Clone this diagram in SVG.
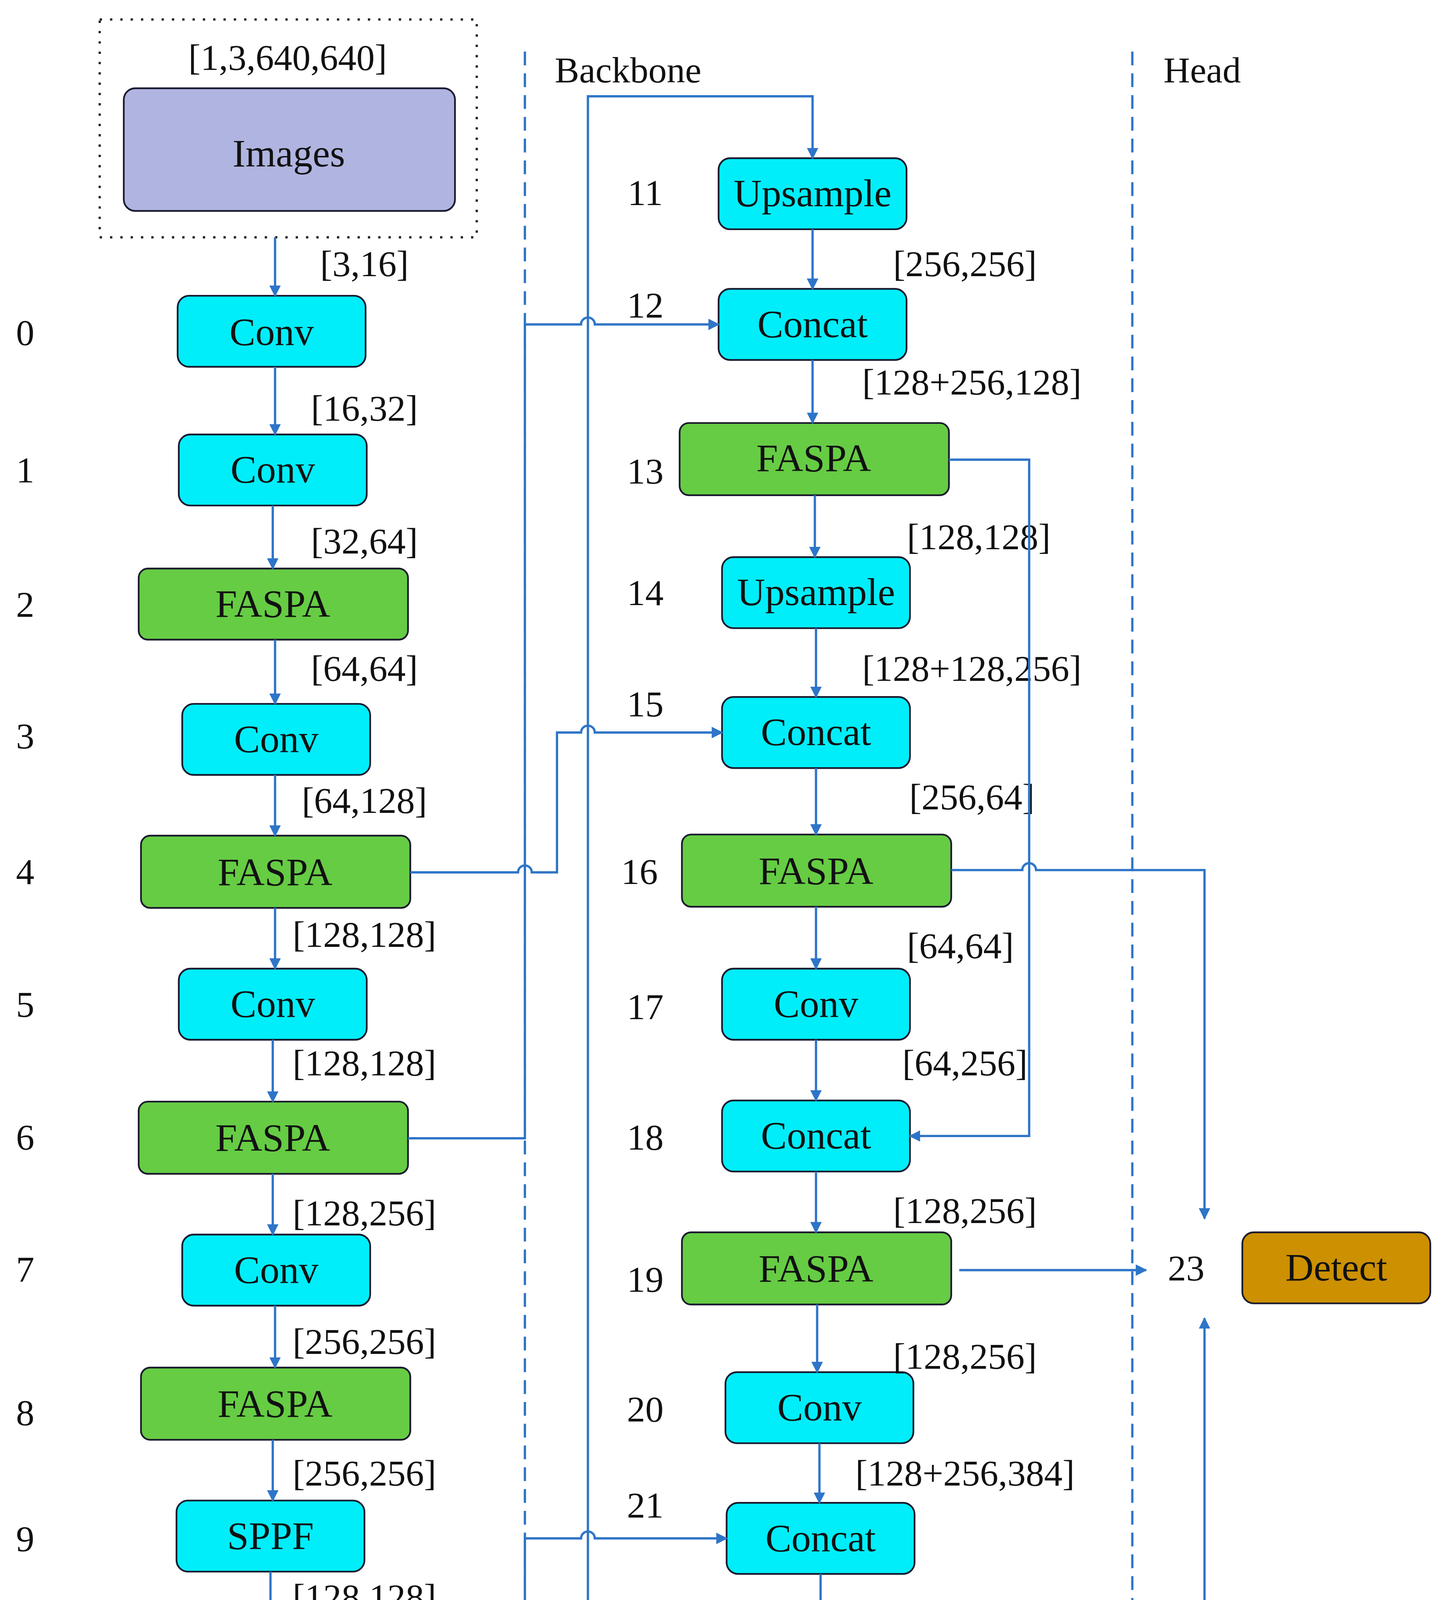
<svg xmlns="http://www.w3.org/2000/svg" width="3677" height="4577" viewBox="0 0 3677 4577">
<defs>
<marker id="ar" markerWidth="10" markerHeight="10" refX="9" refY="5" orient="auto" markerUnits="userSpaceOnUse"><path d="M0,0 L10,5 L0,10 z" fill="#2e75c8"/></marker>
<style>
.c{fill:#00eefa;stroke:#1a1a2e;stroke-width:1.5}
.g{fill:#66cc44;stroke:#1a1a2e;stroke-width:1.5}
.t{font-family:"Liberation Serif",serif;font-size:34px;text-anchor:middle;fill:#111}
.l{font-family:"Liberation Serif",serif;font-size:32px;text-anchor:middle;fill:#111}
.e{fill:none;stroke:#2e75c8;stroke-width:2}
.d{fill:none;stroke:#2e75c8;stroke-width:2;stroke-dasharray:12,7}
</style>
</defs>
<rect width="3677" height="4577" fill="#fff"/>
<g transform="scale(2.9346)">
<line class="d" x1="458" y1="45" x2="458" y2="1552"/>
<line class="d" x1="988" y1="45" x2="988" y2="1552"/>
<text class="l" x="548" y="72">Backbone</text>
<text class="l" x="1049" y="72">Head</text>
<g id="images"><rect x="87" y="17" width="329" height="190" fill="none" stroke="#222" stroke-width="2" stroke-dasharray="2,7"/><rect x="108" y="77" width="289" height="107" rx="10" fill="#b0b4e0" stroke="#1a1a2e" stroke-width="1.5"/><text class="t" x="252" y="145">Images</text><text class="l" x="251" y="61">[1,3,640,640]</text></g>
<g id="n0"><rect class="c" x="155" y="258" width="164" height="62" rx="10"/><text class="t" x="237" y="301">Conv</text><text class="l" x="22" y="301">0</text></g>
<g id="n1"><rect class="c" x="156" y="379" width="164" height="62" rx="10"/><text class="t" x="238" y="421">Conv</text><text class="l" x="22" y="421">1</text></g>
<g id="n2"><rect class="g" x="121" y="496" width="235" height="62" rx="8"/><text class="t" x="238" y="538">FASPA</text><text class="l" x="22" y="538">2</text></g>
<g id="n3"><rect class="c" x="159" y="614" width="164" height="62" rx="10"/><text class="t" x="241" y="656">Conv</text><text class="l" x="22" y="653">3</text></g>
<g id="n4"><rect class="g" x="123" y="729" width="235" height="63" rx="8"/><text class="t" x="240" y="772">FASPA</text><text class="l" x="22" y="771">4</text></g>
<g id="n5"><rect class="c" x="156" y="845" width="164" height="62" rx="10"/><text class="t" x="238" y="887">Conv</text><text class="l" x="22" y="887">5</text></g>
<g id="n6"><rect class="g" x="121" y="961" width="235" height="63" rx="8"/><text class="t" x="238" y="1004">FASPA</text><text class="l" x="22" y="1003">6</text></g>
<g id="n7"><rect class="c" x="159" y="1077" width="164" height="62" rx="10"/><text class="t" x="241" y="1119">Conv</text><text class="l" x="22" y="1118">7</text></g>
<g id="n8"><rect class="g" x="123" y="1193" width="235" height="63" rx="8"/><text class="t" x="240" y="1236">FASPA</text><text class="l" x="22" y="1243">8</text></g>
<g id="n9"><rect class="c" x="154" y="1309" width="164" height="62" rx="10"/><text class="t" x="236" y="1351">SPPF</text><text class="l" x="22" y="1353">9</text></g>
<g id="n10"><rect class="c" x="153" y="1423" width="164" height="62" rx="10"/><text class="t" x="235" y="1465">C2PSA</text><text class="l" x="24" y="1466">10</text></g>
<g id="n11"><rect class="c" x="627" y="138" width="164" height="62" rx="10"/><text class="t" x="709" y="180">Upsample</text><text class="l" x="563" y="179">11</text></g>
<g id="n12"><rect class="c" x="627" y="252" width="164" height="62" rx="10"/><text class="t" x="709" y="294">Concat</text><text class="l" x="563" y="277">12</text></g>
<g id="n13"><rect class="g" x="593" y="369" width="235" height="63" rx="8"/><text class="t" x="710" y="411">FASPA</text><text class="l" x="563" y="422">13</text></g>
<g id="n14"><rect class="c" x="630" y="486" width="164" height="62" rx="10"/><text class="t" x="712" y="528">Upsample</text><text class="l" x="563" y="528">14</text></g>
<g id="n15"><rect class="c" x="630" y="608" width="164" height="62" rx="10"/><text class="t" x="712" y="650">Concat</text><text class="l" x="563" y="625">15</text></g>
<g id="n16"><rect class="g" x="595" y="728" width="235" height="63" rx="8"/><text class="t" x="712" y="771">FASPA</text><text class="l" x="558" y="771">16</text></g>
<g id="n17"><rect class="c" x="630" y="845" width="164" height="62" rx="10"/><text class="t" x="712" y="887">Conv</text><text class="l" x="563" y="889">17</text></g>
<g id="n18"><rect class="c" x="630" y="960" width="164" height="62" rx="10"/><text class="t" x="712" y="1002">Concat</text><text class="l" x="563" y="1003">18</text></g>
<g id="n19"><rect class="g" x="595" y="1075" width="235" height="63" rx="8"/><text class="t" x="712" y="1118">FASPA</text><text class="l" x="563" y="1127">19</text></g>
<g id="n20"><rect class="c" x="633" y="1197" width="164" height="62" rx="10"/><text class="t" x="715" y="1239">Conv</text><text class="l" x="563" y="1240">20</text></g>
<g id="n21"><rect class="c" x="634" y="1311" width="164" height="62" rx="10"/><text class="t" x="716" y="1353">Concat</text><text class="l" x="563" y="1324">21</text></g>
<g id="n22"><rect class="g" x="600" y="1430" width="235" height="63" rx="8"/><text class="t" x="717" y="1473">FASPA</text><text class="l" x="563" y="1477">22</text></g>
<g id="n23"><rect x="1084" y="1075" width="164" height="62" rx="10" fill="#cc9000" stroke="#1a1a2e" stroke-width="1.5"/><text class="t" x="1166" y="1117">Detect</text><text class="l" x="1035" y="1117">23</text></g>
<g id="labels">
<text class="l" x="318" y="241">[3,16]</text><text class="l" x="318" y="367">[16,32]</text><text class="l" x="318" y="483">[32,64]</text><text class="l" x="318" y="594">[64,64]</text><text class="l" x="318" y="709">[64,128]</text><text class="l" x="318" y="826">[128,128]</text><text class="l" x="318" y="938">[128,128]</text><text class="l" x="318" y="1069">[128,256]</text><text class="l" x="318" y="1181">[256,256]</text><text class="l" x="318" y="1296">[256,256]</text><text class="l" x="318" y="1404">[128,128]</text>
<text class="l" x="842" y="241">[256,256]</text><text class="l" x="848" y="344">[128+256,128]</text><text class="l" x="854" y="479">[128,128]</text><text class="l" x="848" y="594">[128+128,256]</text><text class="l" x="848" y="706">[256,64]</text><text class="l" x="838" y="836">[64,64]</text><text class="l" x="842" y="938">[64,256]</text><text class="l" x="842" y="1067">[128,256]</text><text class="l" x="842" y="1194">[128,256]</text><text class="l" x="842" y="1296">[128+256,384]</text><text class="l" x="848" y="1423">[384,256]</text>
</g>
<g id="connectors">
<path class="e" marker-end="url(#ar)" d="M240,207 V258"/>
<path class="e" marker-end="url(#ar)" d="M240,320 V379"/>
<path class="e" marker-end="url(#ar)" d="M238,441 V496"/>
<path class="e" marker-end="url(#ar)" d="M240,558 V614"/>
<path class="e" marker-end="url(#ar)" d="M240,676 V729"/>
<path class="e" marker-end="url(#ar)" d="M240,792 V845"/>
<path class="e" marker-end="url(#ar)" d="M238,907 V961"/>
<path class="e" marker-end="url(#ar)" d="M238,1024 V1077"/>
<path class="e" marker-end="url(#ar)" d="M240,1139 V1193"/>
<path class="e" marker-end="url(#ar)" d="M238,1256 V1309"/>
<path class="e" marker-end="url(#ar)" d="M236,1371 V1423"/>
<path class="e" marker-end="url(#ar)" d="M709,200 V252"/>
<path class="e" marker-end="url(#ar)" d="M709,314 V369"/>
<path class="e" marker-end="url(#ar)" d="M711,432 V486"/>
<path class="e" marker-end="url(#ar)" d="M712,548 V608"/>
<path class="e" marker-end="url(#ar)" d="M712,670 V728"/>
<path class="e" marker-end="url(#ar)" d="M712,791 V845"/>
<path class="e" marker-end="url(#ar)" d="M712,907 V960"/>
<path class="e" marker-end="url(#ar)" d="M712,1022 V1075"/>
<path class="e" marker-end="url(#ar)" d="M713,1138 V1197"/>
<path class="e" marker-end="url(#ar)" d="M715,1259 V1311"/>
<path class="e" marker-end="url(#ar)" d="M716,1373 V1430"/>
<path class="e" marker-end="url(#ar)" d="M234,1485 V1527 H513 V84 H709 V138"/>
<path class="e" marker-end="url(#ar)" d="M317,1453 H458 V1342 H507 A6,6 0 0 1 519,1342 H634"/>
<path class="e" marker-end="url(#ar)" d="M356,993 H458 V283 H507 A6,6 0 0 1 519,283 H627"/>
<path class="e" marker-end="url(#ar)" d="M358,761 H452 A6,6 0 0 1 464,761 H486 V639 H507 A6,6 0 0 1 519,639 H630"/>
<path class="e" marker-end="url(#ar)" d="M828,401 H898 V991 H794"/>
<path class="e" marker-end="url(#ar)" d="M830,759 H892 A6,6 0 0 1 904,759 H1051 V1063"/>
<path class="e" marker-end="url(#ar)" d="M837,1108 H1000"/>
<path class="e" marker-end="url(#ar)" d="M835,1462 H1051 V1150"/>
</g>
</g>
</svg>
